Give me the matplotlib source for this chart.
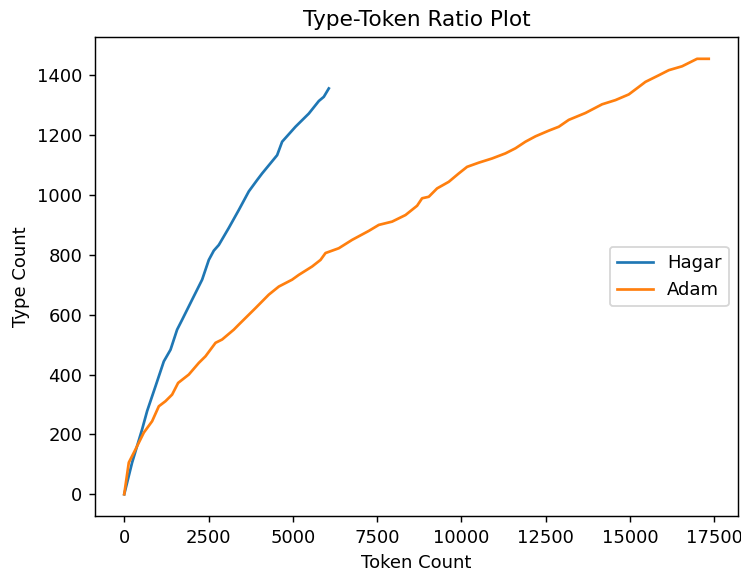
import matplotlib
matplotlib.use('Agg')
import matplotlib.pyplot as plt

# token / type counts
hagar_tokens = [0, 234, 531, 679, 928, 1174, 1373, 1568, 1717, 2013, 2310, 2508,
                2656, 2805, 3101, 3398, 3694, 3941, 4089, 4534, 4682, 5078, 5473,
                5770, 5918, 6066]
hagar_types = [0, 106, 217, 278, 361, 444, 483, 550, 583, 650, 717, 783,
               814, 833, 890, 950, 1012, 1050, 1072, 1133, 1178, 1228, 1272,
               1314, 1328, 1356]

adam_tokens = [0, 136, 335, 581, 827, 1026, 1224, 1420, 1598, 1915, 2212, 2410,
               2707, 2902, 3249, 3398, 3892, 4287, 4584, 4978, 5176, 5571, 5820,
               5968, 6362, 6757, 7252, 7548, 7943, 8340, 8684, 8832, 9030, 9277,
               9623, 9920, 10166, 10513, 10907, 11303, 11600, 11896, 12194, 12588,
               12885, 13181, 13676, 14169, 14565, 14960, 15256, 15455, 15850,
               16146, 16540, 16789, 16985, 17331]
adam_types = [0, 106, 150, 206, 244, 294, 311, 333, 372, 400, 439, 461,
              506, 517, 550, 567, 622, 667, 694, 717, 733, 761, 783,
              806, 822, 850, 880, 900, 911, 933, 964, 989, 994, 1022,
              1044, 1072, 1094, 1108, 1122, 1139, 1156, 1178, 1196, 1215,
              1228, 1251, 1274, 1303, 1317, 1336, 1361, 1378, 1400,
              1417, 1430, 1444, 1455, 1455]

DPI = 129.6
fig = plt.figure(figsize=(741 / DPI, 569 / DPI), dpi=DPI)
ax = fig.add_axes([0.1282, 0.0931, 0.8677, 0.8418])
ax.plot(hagar_tokens, hagar_types, label='Hagar')
ax.plot(adam_tokens, adam_types, label='Adam')
ax.set_xlabel('Token Count')
ax.set_ylabel('Type Count')
ax.set_title('Type-Token Ratio Plot')
ax.legend(loc='center right')
fig.savefig('out.png', dpi=DPI)
